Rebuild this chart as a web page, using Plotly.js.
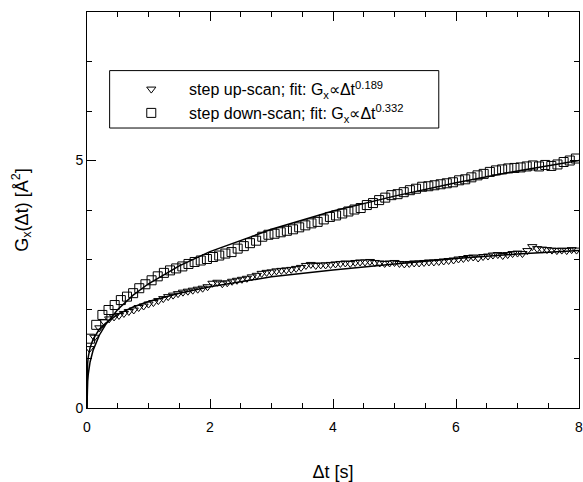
<!DOCTYPE html>
<html><head><meta charset="utf-8">
<script src="https://cdn.plot.ly/plotly-3.0.1.min.js"></script>
<style>html,body{margin:0;padding:0;background:#fff}#plot{width:583px;height:482px}</style>
</head><body><div id="plot"></div>
<script>
// step down-scan (squares)
const downX = [0.05,0.15,0.25,0.35,0.45,0.55,0.65,0.75,0.85,0.95,1.05,1.15,1.25,1.35,1.45,1.55,1.65,1.75,1.85,1.95,
2.05,2.15,2.25,2.35,2.45,2.55,2.65,2.75,2.85,2.95,3.05,3.15,3.25,3.35,3.45,3.55,3.65,3.75,3.85,3.95,
4.05,4.15,4.25,4.35,4.45,4.55,4.65,4.75,4.85,4.95,5.05,5.15,5.25,5.35,5.45,5.55,5.65,5.75,5.85,5.95,
6.05,6.15,6.25,6.35,6.45,6.55,6.65,6.75,6.85,6.95,7.05,7.15,7.25,7.35,7.45,7.55,7.65,7.75,7.85,7.95];
const downY = [1.40,1.68,1.88,1.98,2.08,2.18,2.25,2.32,2.42,2.50,2.58,2.66,2.73,2.78,2.82,2.86,2.91,2.95,2.98,3.01,
3.05,3.08,3.12,3.15,3.22,3.27,3.33,3.38,3.46,3.50,3.52,3.55,3.58,3.61,3.65,3.69,3.73,3.76,3.81,3.86,
3.89,3.93,3.97,4.01,4.04,4.10,4.14,4.20,4.25,4.30,4.32,4.36,4.40,4.43,4.47,4.48,4.50,4.52,4.54,4.56,
4.60,4.62,4.66,4.70,4.73,4.77,4.80,4.82,4.84,4.85,4.86,4.88,4.90,4.88,4.91,4.89,4.92,4.97,5.00,5.04];
// step up-scan (triangles)
const upX = [0.04,0.12,0.20,0.28,0.36,0.44,0.52,0.60,0.68,0.76,0.84,0.92,1.00,1.08,1.16,1.24,1.32,1.40,1.48,1.56,
1.64,1.72,1.80,1.88,1.96,2.04,2.12,2.20,2.28,2.36,2.44,2.52,2.60,2.68,2.76,2.84,2.92,3.00,3.08,3.16,
3.24,3.32,3.40,3.48,3.56,3.64,3.72,3.80,3.88,3.96,4.04,4.12,4.20,4.28,4.36,4.44,4.52,4.60,4.68,4.76,
4.84,4.92,5.00,5.08,5.16,5.24,5.32,5.40,5.48,5.56,5.64,5.72,5.80,5.88,5.96,6.04,6.12,6.20,6.28,6.36,
6.44,6.52,6.60,6.68,6.76,6.84,6.92,7.00,7.08,7.16,7.24,7.32,7.40,7.48,7.56,7.64,7.72,7.80,7.88,7.96];
const upY = [1.20,1.43,1.62,1.74,1.80,1.84,1.87,1.91,1.95,1.98,2.03,2.06,2.10,2.13,2.17,2.21,2.25,2.28,2.31,2.34,
2.36,2.38,2.40,2.42,2.45,2.52,2.54,2.51,2.53,2.56,2.58,2.60,2.62,2.65,2.68,2.72,2.74,2.75,2.77,2.78,
2.79,2.80,2.82,2.84,2.88,2.90,2.88,2.89,2.89,2.90,2.91,2.92,2.93,2.92,2.94,2.95,2.95,2.96,2.94,2.93,
2.92,2.93,2.94,2.92,2.91,2.92,2.93,2.93,2.94,2.95,2.95,2.96,2.97,2.98,2.99,3.01,3.02,3.04,3.05,3.03,
3.06,3.07,3.09,3.10,3.08,3.10,3.12,3.13,3.12,3.18,3.26,3.22,3.21,3.20,3.19,3.18,3.19,3.18,3.20,3.19];
// fit curves (values of the drawn power-law fits)
const fitX    = [0,0.001,0.01,0.02,0.05,0.1,0.2,0.3,0.5,0.75,1,1.5,2,3,4,5,6,7,8];
const fitUpY  = [0,0.58,0.90,1.03,1.22,1.39,1.59,1.71,1.89,2.04,2.15,2.32,2.45,2.65,2.79,2.91,3.02,3.11,3.18];
const fitDownY= [0,0.25,0.54,0.68,0.93,1.17,1.47,1.68,1.99,2.28,2.51,2.87,3.16,3.61,3.98,4.28,4.55,4.79,5.00];
const nameUp   = '&nbsp;&nbsp;&nbsp;&nbsp;step up-scan; fit: G<sub>x</sub>∝Δt<sup>0.189</sup>';
const nameDown = '&nbsp;&nbsp;&nbsp;&nbsp;step down-scan; fit: G<sub>x</sub>∝Δt<sup>0.332</sup>';

const data = [
  {x: fitX, y: fitUpY, mode:'lines', line:{color:'#000', width:1.5}, showlegend:false, hoverinfo:'skip'},
  {x: fitX, y: fitDownY, mode:'lines', line:{color:'#000', width:1.5}, showlegend:false, hoverinfo:'skip'},
  {x: upX, y: upY, mode:'markers', name: nameUp,
   marker:{symbol:'triangle-down-open', size:8, color:'#000', line:{width:1, color:'#000'}}},
  {x: downX, y: downY, mode:'markers', name: nameDown,
   marker:{symbol:'square-open', size:9, color:'#000', line:{width:1, color:'#000'}}}
];
const font = {family:'Liberation Sans, Arial, sans-serif', color:'#000'};
const layout = {
  width:583, height:482,
  margin:{l:87, r:4, t:12, b:74},
  paper_bgcolor:'#fff', plot_bgcolor:'#fff',
  font: Object.assign({size:13}, font),
  showlegend:true,
  legend:{x:0.09, y:0.848, xanchor:'left', yanchor:'top', bgcolor:'rgba(0,0,0,0)',
          borderwidth:0, font:Object.assign({size:16}, font), itemwidth:30, tracegroupgap:0},
  shapes:[{type:'rect', xref:'paper', yref:'paper', x0:0.046, x1:0.715, y0:0.707, y1:0.852,
           line:{color:'#000', width:1}, fillcolor:'rgba(0,0,0,0)'}],
  xaxis:{range:[0,8], dtick:2, tick0:0, ticks:'inside', ticklen:9, tickwidth:1, tickcolor:'#000',
         showline:true, linecolor:'#000', linewidth:1, mirror:'ticks', showgrid:false, zeroline:false,
         ticklabeloverflow:'allow', ticklabelstandoff:6,
         minor:{dtick:0.5, ticks:'inside', ticklen:5, tickcolor:'#000', showgrid:false},
         tickfont:Object.assign({size:14}, font),
         title:{text:'Δt [s]', font:Object.assign({size:18}, font), standoff:34}},
  yaxis:{range:[0,8], dtick:5, tick0:0, ticks:'inside', ticklen:9, tickwidth:1, tickcolor:'#000',
         showline:true, linecolor:'#000', linewidth:1, mirror:'ticks', showgrid:false, zeroline:false,
         minor:{dtick:1, ticks:'inside', ticklen:5, tickcolor:'#000', showgrid:false},
         tickfont:Object.assign({size:14}, font),
         title:{text:'G<sub>x</sub>(Δt) [Å<sup>2</sup>]', font:Object.assign({size:18}, font), standoff:42}}
};
Plotly.newPlot('plot', data, layout, {displayModeBar:false, staticPlot:true});
</script></body></html>
